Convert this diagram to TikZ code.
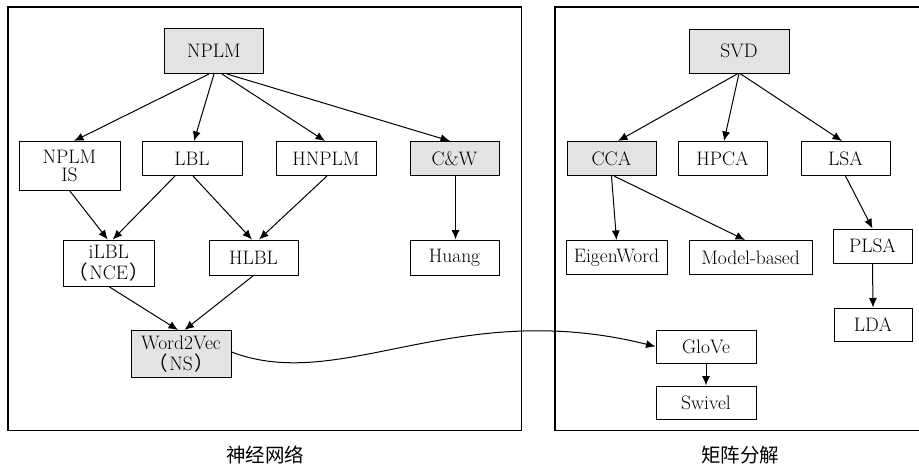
\documentclass[tikz,border=0pt]{standalone}
\usepackage{fontspec}
\newfontfamily\cjk{Noto Sans CJK SC}
\newfontfamily\cjkp[RawFeature=+halt]{Noto Sans CJK SC}
\usetikzlibrary{arrows.meta}
\definecolor{boxgray}{RGB}{227,227,227}
\newcommand{\lpar}{{\cjkp （}\kern1.5pt}
\newcommand{\rpar}{\kern1.5pt{\cjkp ）}}
\begin{document}
\begin{tikzpicture}[x=1pt,y=-1pt,
  box/.style={draw, line width=1pt, inner sep=0pt, align=center,
    font=\fontsize{19.5}{18.5}\selectfont},
  hl/.style={box, fill=boxgray},
  wide/.style={font=\fontsize{19.5}{21}\selectfont},
  arr/.style={-{Latex[length=9.5pt,width=8pt]}, line width=1pt},
  frame/.style={draw, line width=1.1pt},
  captext/.style={font={\cjk\fontsize{19.5}{22}\selectfont}}]
\useasboundingbox (0,0) rectangle (919,466);
% frames
\draw[frame] (8,7) rectangle (521.5,430.5);
\draw[frame] (555,7) -- (930,7) -- (930,430.5) -- (555,430.5) -- cycle;
\node[captext] (capnn) at (265,455) {神经网络};
\node[captext] (capmf) at (740,455) {矩阵分解};
% left nodes
\node[hl, minimum width=99pt, minimum height=45pt] (nplm) at (214,51) {NPLM};
\node[box, minimum width=101pt, minimum height=48.5pt] (nplmis) at (69.5,165.75) {NPLM\\IS};
\node[box, minimum width=100pt, minimum height=34pt] (lbl) at (192,158.5) {LBL};
\node[box, minimum width=100pt, minimum height=34pt] (hnplm) at (326,158.5) {HNPLM};
\node[hl, minimum width=89pt, minimum height=34pt] (cw) at (454.5,158.5) {C\&W};
\node[box, wide, minimum width=90.5pt, minimum height=46pt] (ilbl) at (108.75,263) {iLBL\\\lpar NCE\rpar};
\node[box, minimum width=89pt, minimum height=35pt] (hlbl) at (253.5,257.5) {HLBL};
\node[box, minimum width=89pt, minimum height=35pt] (huang) at (454.5,257.5) {Huang};
\node[hl, wide, minimum width=100pt, minimum height=47pt] (w2v) at (181,354) {Word2Vec\\\lpar NS\rpar};
% right nodes
\node[hl, minimum width=100pt, minimum height=44pt] (svd) at (739,51) {SVD};
\node[hl, minimum width=89pt, minimum height=34pt] (cca) at (611.5,158.5) {CCA};
\node[box, minimum width=89pt, minimum height=34pt] (hpca) at (722.5,158.5) {HPCA};
\node[box, minimum width=89pt, minimum height=34pt] (lsa) at (845.5,158.5) {LSA};
\node[box, minimum width=101pt, minimum height=34pt] (eigen) at (616.5,257.5) {EigenWord};
\node[box, minimum width=123pt, minimum height=34pt] (model) at (750.5,257.5) {Model-based};
\node[box, minimum width=79pt, minimum height=34pt] (plsa) at (872.5,246) {PLSA};
\node[box, minimum width=78pt, minimum height=33pt] (lda) at (873,324.5) {LDA};
\node[box, minimum width=100pt, minimum height=33pt] (glove) at (706,346.5) {GloVe};
\node[box, minimum width=100pt, minimum height=33pt] (swivel) at (706,402.5) {Swivel};
% left edges
\draw[arr] ([xshift=-5pt]nplm.south) -- ([xshift=4.5pt]nplmis.north);
\draw[arr] (nplm.south) -- ([xshift=2pt]lbl.north);
\draw[arr] ([xshift=8pt]nplm.south) -- ([xshift=-1pt]hnplm.north);
\draw[arr] ([xshift=13pt]nplm.south) -- ([xshift=-4.5pt]cw.north);
\draw[arr] (nplmis.south) -- ([xshift=-1pt]ilbl.north);
\draw[arr] ([xshift=-17pt]lbl.south) -- ([xshift=4pt]ilbl.north);
\draw[arr] ([xshift=1pt]lbl.south) -- ([xshift=-1.5pt]hlbl.north);
\draw[arr] ([xshift=1pt]hnplm.south) -- ([xshift=5.5pt]hlbl.north);
\draw[arr] ([xshift=1pt]cw.south) -- ([xshift=1pt]huang.north);
\draw[arr] (ilbl.south) -- ([xshift=-3pt]w2v.north);
\draw[arr] (hlbl.south) -- ([xshift=3.5pt]w2v.north);
% right edges
\draw[arr] ([xshift=-1pt]svd.south) -- ([xshift=6.5pt]cca.north);
\draw[arr] (svd.south) -- ([xshift=1.5pt]hpca.north);
\draw[arr] ([xshift=1pt]svd.south) -- ([xshift=-3.5pt]lsa.north);
\draw[arr] (cca.south) -- (eigen.north);
\draw[arr] ([xshift=2.5pt]cca.south) -- ([xshift=-5.5pt]model.north);
\draw[arr] (lsa.south) -- (plsa.north);
\draw[arr] (plsa.south) -- (lda.north);
\draw[arr] (glove.south) -- (swivel.north);
% cross link
\draw[arr] ([yshift=2pt]w2v.east) .. controls +(110,42) and +(-200,-50) .. (glove.west);
\end{tikzpicture}
\end{document}
